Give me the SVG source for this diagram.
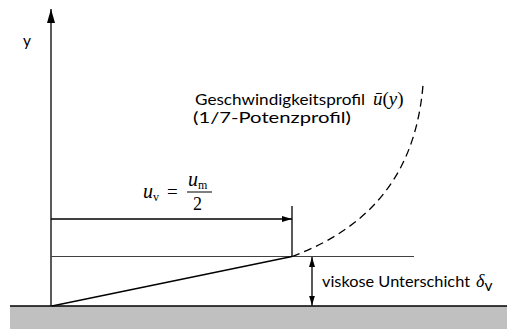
<svg xmlns="http://www.w3.org/2000/svg" width="507" height="329" viewBox="0 0 507 329">
<style>
.ln{stroke:#000;stroke-width:1.3;fill:none}
.thin{stroke:#404040;stroke-width:1.1;fill:none}
.txt{font-family:Lato,"Open Sans",sans-serif;font-size:15.5px;fill:#000}
.math{font-family:"Liberation Serif","DejaVu Serif",serif;font-style:italic;fill:#000}
.mup{font-family:"Liberation Serif","DejaVu Serif",serif;fill:#000}
</style>
<defs>
<marker id="ah" viewBox="0 0 10 6" refX="10" refY="3" markerWidth="10" markerHeight="6" markerUnits="userSpaceOnUse" orient="auto-start-reverse">
<path d="M0,0 L10,3 L0,6 Z" fill="#000"/>
</marker>
<marker id="ahY" viewBox="0 0 14 8" refX="14" refY="4" markerWidth="14" markerHeight="8" markerUnits="userSpaceOnUse" orient="auto">
<path d="M0,0 L14,4 L0,8 Z" fill="#000"/>
</marker>
</defs>
<rect x="0" y="0" width="507" height="329" fill="#fff"/>
<g id="ground">
<rect x="10" y="306" width="497" height="23" fill="#c0c0c0"/>
<line x1="10" y1="306" x2="507" y2="306" stroke="#000" stroke-width="1.5"/>
</g>
<g id="connectors">
<line id="yaxis" class="ln" x1="51" y1="306" x2="51" y2="9" marker-end="url(#ahY)"/>
<line id="ref-line" class="thin" x1="51" y1="256.5" x2="414" y2="256.5"/>
<line id="linear" class="ln" x1="52" y1="306" x2="292" y2="256.5"/>
<line id="tick" class="ln" x1="292" y1="206" x2="292" y2="256.5"/>
<line id="uv-arrow" class="ln" x1="51" y1="219" x2="292" y2="219" marker-end="url(#ah)"/>
<line id="delta-arrow" class="ln" x1="312" y1="257" x2="312" y2="305.5" marker-start="url(#ah)" marker-end="url(#ah)"/>
<path id="profile" d="M292,256.5 C374,226 416,170 423,85" stroke="#000" stroke-width="1.3" fill="none" stroke-dasharray="8,5"/>
</g>
<g id="label-y"><text class="txt" x="23" y="46" font-size="17">y</text></g>
<g id="label-profile">
<text class="txt" x="195" y="105" textLength="170" lengthAdjust="spacingAndGlyphs">Geschwindigkeitsprofil</text>
<text class="txt" x="193" y="123" textLength="158" lengthAdjust="spacingAndGlyphs">(1/7-Potenzprofil)</text>
<text x="373" y="105" font-size="19"><tspan class="math">ū</tspan><tspan class="mup">(</tspan><tspan class="math">y</tspan><tspan class="mup">)</tspan></text>
</g>
<g id="label-uv">
<text x="143" y="198" font-size="20"><tspan class="math">u</tspan><tspan class="mup" font-size="12" dy="3">v</tspan></text>
<text class="mup" x="167" y="198" font-size="19">=</text>
<text x="188" y="186" font-size="20"><tspan class="math">u</tspan><tspan class="mup" font-size="12" dy="3">m</tspan></text>
<line x1="187" y1="192" x2="212" y2="192" stroke="#000" stroke-width="1"/>
<text class="mup" x="193" y="210" font-size="18">2</text>
</g>
<g id="label-delta">
<text class="txt" x="322" y="287" textLength="148" lengthAdjust="spacingAndGlyphs">viskose Unterschicht</text>
<text x="476" y="287" font-size="18"><tspan class="math">δ</tspan><tspan class="txt" font-size="11" dy="4">v</tspan></text>
</g>
</svg>
